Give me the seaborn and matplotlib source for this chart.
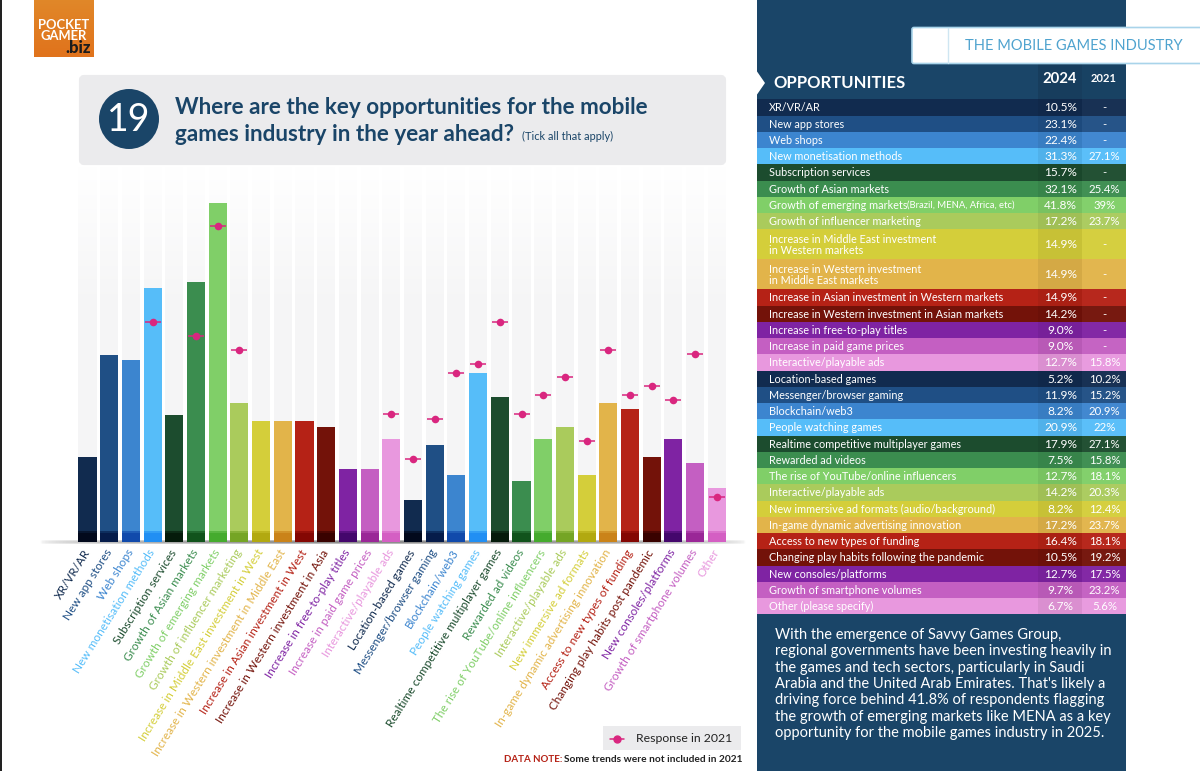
import numpy as np
import matplotlib
matplotlib.use('Agg')
import matplotlib.pyplot as plt
import seaborn as sns
from matplotlib.patches import Rectangle, FancyBboxPatch, Circle, Polygon

bar_labels = ['XR/VR/AR', 'New app stores', 'Web shops', 'New monetisation methods', 'Subscription services',
              'Growth of Asian markets', 'Growth of emerging markets', 'Growth of influencer marketing',
              'Increase in Middle East investment in West', 'Increase in Western investment in Middle East',
              'Increase in Asian investment in West', 'Increase in Western investment in Asia',
              'Increase in free-to-play titles', 'Increase in paid game prices', 'Interactive/playable ads',
              'Location-based games', 'Messenger/browser gaming', 'Blockchain/web3', 'People watching games',
              'Realtime competitive multiplayer games', 'Rewarded ad videos', 'The rise of YouTube/online influencers',
              'Interactive/playable ads', 'New immersive ad formats', 'In-game dynamic advertising innovation',
              'Access to new types of funding', 'Changing play habits post pandemic', 'New consoles/platforms',
              'Growth of smartphone volumes', 'Other']

table_labels = ['XR/VR/AR', 'New app stores', 'Web shops', 'New monetisation methods', 'Subscription services',
                'Growth of Asian markets', 'Growth of emerging markets', 'Growth of influencer marketing',
                'Increase in Middle East investment\nin Western markets',
                'Increase in Western investment\nin Middle East markets',
                'Increase in Asian investment in Western markets', 'Increase in Western investment in Asian markets',
                'Increase in free-to-play titles', 'Increase in paid game prices', 'Interactive/playable ads',
                'Location-based games', 'Messenger/browser gaming', 'Blockchain/web3', 'People watching games',
                'Realtime competitive multiplayer games', 'Rewarded ad videos', 'The rise of YouTube/online influencers',
                'Interactive/playable ads', 'New immersive ad formats (audio/background)',
                'In-game dynamic advertising innovation', 'Access to new types of funding',
                'Changing play habits following the pandemic', 'New consoles/platforms',
                'Growth of smartphone volumes', 'Other (please specify)']

values_2024 = [10.5, 23.1, 22.4, 31.3, 15.7, 32.1, 41.8, 17.2, 14.9, 14.9, 14.9, 14.2, 9.0, 9.0, 12.7,
               5.2, 11.9, 8.2, 20.9, 17.9, 7.5, 12.7, 14.2, 8.2, 17.2, 16.4, 10.5, 12.7, 9.7, 6.7]
values_2021 = [np.nan, np.nan, np.nan, 27.1, np.nan, 25.4, 39, 23.7, np.nan, np.nan, np.nan, np.nan, np.nan, np.nan, 15.8,
               10.2, 15.2, 20.9, 22, 27.1, 15.8, 18.1, 20.3, 12.4, 23.7, 18.1, 19.2, 17.5, 23.2, 5.6]

colours = ['#112b4f', '#1f4f85', '#3c85cf', '#56bdf9', '#1c4c2e', '#3b8d4f', '#80cf68', '#aacb5c',
           '#d4ce3a', '#e2b44a', '#b52216', '#731209', '#7f23a3', '#c45fc2', '#e898de']

note_text = ('With the emergence of Savvy Games Group,\nregional governments have been investing heavily in\n'
             'the games and tech sectors, particularly in Saudi\nArabia and the United Arab Emirates. That\'s likely a\n'
             'driving force behind 41.8% of respondents flagging\nthe growth of emerging markets like MENA as a key\n'
             'opportunity for the mobile games industry in 2025.')

navy = '#1a4568'
pink = '#d9267f'
palette = (colours * 2)
pos = np.arange(len(values_2024))

sns.set_theme(style='white')
plt.rcParams['font.family'] = ['Lato', 'DejaVu Sans']

fig = plt.figure(figsize=(12, 7.71), dpi=100)

# page furniture, drawn in pixel coordinates
bg = fig.add_axes([0, 0, 1, 1])
bg.set_xlim(0, 1200)
bg.set_ylim(771, 0)
bg.axis('off')

bg.add_patch(Rectangle((0, 0), 1.5, 771, color='#222222', lw=0))

# logo
grad = np.linspace(0, 1, 60)[:, None] * np.array([[0.0, -0.08, -0.05]]) + np.array([[0.88, 0.53, 0.16]])
grad = np.repeat(grad[:, None, :], 4, axis=1)
bg.imshow(grad, extent=(34, 94, 57, 0), aspect='auto', zorder=1)
bg.text(63.5, 25, 'POCKET', color='white', fontsize=9.4, fontweight='bold', ha='center', va='center', zorder=2)
bg.text(63.5, 36.5, 'GAMER', color='white', fontsize=9.4, fontweight='bold', ha='center', va='center', zorder=2)
bg.text(90.5, 48, '.biz', color='#1c1c1c', fontsize=12, fontweight='black', ha='right', va='center', zorder=2)

# title box
bg.add_patch(FancyBboxPatch((81, 77), 643, 86, boxstyle='round,pad=0,rounding_size=3', fc='#ebebed', ec='#ebebed', lw=3))
bg.add_patch(Circle((129, 119), 30, color=navy, lw=0))
bg.text(129, 120, '19', color='white', fontsize=27, ha='center', va='center')
bg.text(175, 108, 'Where are the key opportunities for the mobile', color=navy, fontsize=16.2, fontweight='bold', va='center')
bg.text(175, 134.5, 'games industry in the year ahead?', color=navy, fontsize=16.2, fontweight='bold', va='center')
bg.text(522, 136, '(Tick all that apply)', color=navy, fontsize=7.9, va='center')

# soft shadow under the bars
shadow = np.zeros((5, 200, 4))
shadow[..., :3] = 0.35
shadow[..., 3] = np.sin(np.linspace(0, np.pi, 200))[None, :] ** 0.5 * np.array([0, 0.5, 0.8, 0.5, 0])[:, None]
bg.imshow(shadow, extent=(38, 748, 545, 539), aspect='auto', zorder=1)

# right panel
bg.add_patch(Rectangle((756.5, 0), 369.5, 771, color=navy, lw=0))
bg.add_patch(Polygon([(756, 70), (765, 83), (756, 96)], color='white', lw=0))
bg.add_patch(Rectangle((1038, 64), 44, 35, color='black', alpha=0.1, lw=0))
bg.add_patch(Rectangle((1082, 64), 44, 35, color='black', alpha=0.04, lw=0))

bg.add_patch(FancyBboxPatch((912, 27.5), 300, 36, boxstyle='round,pad=0,rounding_size=2', fc='white', ec='#a9d4ea', lw=1.2))
bg.plot([948, 948], [28, 63], color='#cfe6f2', lw=1)
bg.text(965, 45.5, 'THE MOBILE GAMES INDUSTRY', color='#4fa3cf', fontsize=10.5, va='center')

bg.text(773, 83, 'OPPORTUNITIES', color='white', fontsize=12, fontweight='bold', va='center')
bg.text(1060, 79, '2024', color='white', fontsize=10.7, fontweight='bold', ha='center', va='center')
bg.text(1104, 78, '2021', color='white', fontsize=8, fontweight='bold', ha='center', va='center')

# table rows
y = 99.3
for label, v24, v21, c in zip(table_labels, values_2024, values_2021, palette):
    h = 30 if '\n' in label else 16.25
    bg.add_patch(Rectangle((756.5, y), 369.5, h, color=c, lw=0))
    bg.add_patch(Rectangle((1038, y), 44, h, color='black', alpha=0.06, lw=0))
    bg.add_patch(Rectangle((1082, y), 44, h, color='white', alpha=0.03, lw=0))
    bg.text(769, y + h / 2 + 0.5, label, color='white', fontsize=7.8, va='center', linespacing=1.0)
    if label == 'Growth of emerging markets':
        bg.text(907, y + h / 2 + 0.5, '(Brazil, MENA, Africa, etc)', color='white', fontsize=6.8, va='center')
    bg.text(1060.5, y + h / 2 + 0.5, f'{v24:.1f}%', color='white', fontsize=8.6, ha='center', va='center')
    txt = '-' if np.isnan(v21) else f'{v21:g}%'
    bg.text(1104.5, y + h / 2 + 0.5, txt, color='white', fontsize=8.2, ha='center', va='center')
    y += h

bg.text(775, 684, note_text, color='white', fontsize=10.5, va='center', linespacing=1.22)

# legend
bg.add_patch(Rectangle((603, 726), 138, 24, color='#ebebed', lw=0))
bg.plot([610, 624], [738.5, 738.5], color=pink, lw=1.1)
bg.plot([617], [738.5], 'o', color=pink, ms=5)
bg.text(636, 738.5, 'Response in 2021', color='#222222', fontsize=8.8, va='center')
bg.text(504, 760, 'DATA NOTE:', color='#b52216', fontsize=7, fontweight='bold', va='center')
bg.text(564, 760, 'Some trends were not included in 2021', color='#222222', fontsize=7.3, fontweight='bold', va='center')

bg.set_xlim(0, 1200)
bg.set_ylim(771, 0)

# bar chart, 8.11 px per percentage point, baseline at y=542
ymax = 375 / 8.11
ax = fig.add_axes([76.65 / 1200, (771 - 542) / 771, 651 / 1200, 375 / 771])
ax.patch.set_alpha(0)

sns.barplot(x=pos, y=np.full(len(pos), ymax), color='#f5f5f6', width=0.83, linewidth=0, ax=ax, zorder=1)

fade = np.ones((100, 2, 4))
fade[..., 3] = np.clip(np.linspace(1, 0, 100), 0, 1)[:, None]
ax.imshow(fade, extent=(-0.5, 29.5, ymax * 0.62, ymax), aspect='auto', zorder=1.5)

sns.barplot(x=pos, y=values_2024, hue=pos, palette=palette, dodge=False, legend=False, width=0.83, linewidth=0,
            ax=ax, saturation=1, zorder=2)

# dark band at the foot of each bar, two layers so its top edge is soft
dark = [tuple(np.array(matplotlib.colors.to_rgb(c)) ** 2) for c in palette]
sns.barplot(x=pos, y=np.full(len(pos), 1.3), hue=pos, palette=dark, dodge=False, legend=False, width=0.83, linewidth=0,
            ax=ax, saturation=1, alpha=0.6, zorder=3)
sns.barplot(x=pos, y=np.full(len(pos), 1.05), hue=pos, palette=dark, dodge=False, legend=False, width=0.83, linewidth=0,
            ax=ax, saturation=1, alpha=0.8, zorder=3.5)

ax.plot(pos, values_2021, ls='none', marker='_', ms=11, mew=1.1, color=pink, zorder=4)
sns.scatterplot(x=pos, y=values_2021, color=pink, s=30, linewidth=0, ax=ax, zorder=5)

ax.set_xlim(-0.5, 29.5)
ax.set_ylim(0, ymax)
ax.set_yticks([])
ax.set_xlabel('')
ax.set_ylabel('')
ax.set_xticks(pos)
ax.set_xticklabels(bar_labels, fontsize=8.5, rotation=58, ha='right', va='center', rotation_mode='anchor')
for tick, c in zip(ax.get_xticklabels(), palette):
    tick.set_color(c)
ax.tick_params(axis='x', length=0, pad=6)
sns.despine(ax=ax, left=True, bottom=True)

fig.savefig('out.png', dpi=100)
